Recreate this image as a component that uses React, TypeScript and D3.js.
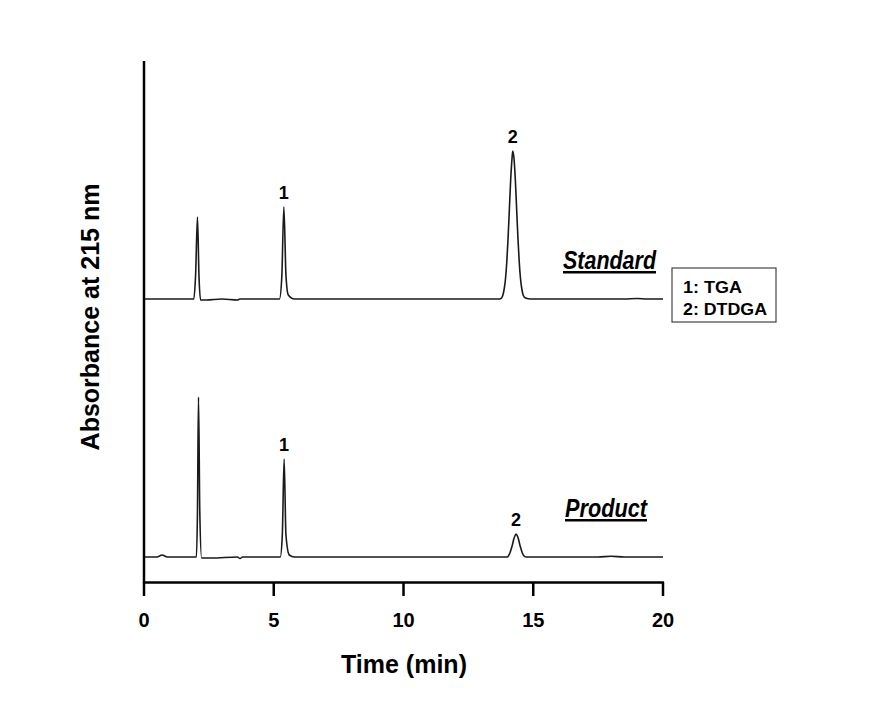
import React from "react";
import * as d3 from "d3";

// Time (min) / absorbance (mAU, relative to own baseline) points
const standardTrace: [number, number][] = [
  [0, 0], [1.92, 0], [1.99, 25], [2.06, 82], [2.12, 22], [2.18, -1], [2.4, -1], [3.0, 0],
  [3.6, -1], [3.7, 0], [5.22, 0], [5.31, 22], [5.39, 92], [5.47, 24], [5.56, 4], [5.8, 0],
  [13.7, 0], [13.78, 1], [13.83, 4], [13.88, 10], [13.93, 20], [13.98, 37], [14.03, 61], [14.08, 90],
  [14.13, 119], [14.18, 140], [14.21, 148], [14.26, 140], [14.31, 119], [14.36, 90], [14.41, 61],
  [14.46, 37], [14.51, 20], [14.56, 10], [14.61, 4], [14.7, 1], [14.9, 0],
  [18.5, 0], [19, 0.5], [19.4, 0], [20, 0],
];
const productTrace: [number, number][] = [
  [0, 0], [0.5, 0], [0.7, 2], [0.9, 0], [2.02, 0], [2.06, 45], [2.1, 160], [2.15, 45], [2.22, -1],
  [2.6, -1], [3.6, 0], [3.7, -1.5], [3.8, 0], [5.25, 0], [5.33, 22], [5.4, 98], [5.47, 22],
  [5.6, 2], [5.8, 0], [14.0, 0], [14.05, 1.5], [14.1, 4], [14.15, 8], [14.2, 12.5], [14.25, 18],
  [14.3, 21.5], [14.34, 23], [14.38, 21.5], [14.43, 18], [14.48, 12.5], [14.53, 8], [14.58, 4],
  [14.63, 1.5], [14.72, 0], [17.5, 0], [18, 0.7], [18.5, 0], [20, 0],
];
const traceNames = ["Standard", "Product"];
const traceOffsets = [258, 0];
// peak labels: [trace index, time, label, peak height]
const peakLabels: [number, number, string, number][] = [
  [0, 5.39, "1", 92], [0, 14.21, "2", 148], [1, 5.4, "1", 98], [1, 14.34, "2", 23],
];
const legendItems = ["1: TGA", "2: DTDGA"];
const xTicks = [0, 5, 10, 15, 20];

export default function App() {
  const font = "'Liberation Sans', Arial, sans-serif";
  const x = d3.scaleLinear().domain([0, 20]).range([144, 663]);
  const y = d3.scaleLinear().domain([-25, 495]).range([582, 62]);
  const traces = [standardTrace, productTrace];
  const line = (off: number) =>
    d3.line<[number, number]>().x((d) => x(d[0])).y((d) => y(d[1] + off)).curve(d3.curveMonotoneX);
  return (
    <svg width={885} height={707} style={{ position: "absolute", left: 0, top: 0, background: "#fff" }}>
      {traces.map((t, i) => (
        <path key={i} d={line(traceOffsets[i])(t) || ""} fill="none" stroke="#1a1a1a" strokeWidth={1.6} strokeLinejoin="round" />
      ))}
      {/* axes */}
      <line x1={x(0)} x2={x(0)} y1={61} y2={583} stroke="#000" strokeWidth={2.5} />
      <line x1={x(0) - 1} x2={x(20) + 1} y1={582.5} y2={582.5} stroke="#000" strokeWidth={2.5} />
      {xTicks.map((t) => (
        <g key={t}>
          <line x1={x(t)} x2={x(t)} y1={582} y2={596} stroke="#000" strokeWidth={2.5} />
          <text x={x(t)} y={627} textAnchor="middle" fontFamily={font} fontWeight="bold" fontSize={20}>{t}</text>
        </g>
      ))}
      <text x={404} y={673} textAnchor="middle" fontFamily={font} fontWeight="bold" fontSize={25}>Time (min)</text>
      <text transform="translate(99,317) rotate(-90)" textAnchor="middle" fontFamily={font} fontWeight="bold" fontSize={25}>Absorbance at 215 nm</text>
      {peakLabels.map(([ti, t, lab, h], i) => (
        <text key={i} x={x(t)} y={y(h + traceOffsets[ti]) - 8} textAnchor="middle" fontFamily={font} fontWeight="bold" fontSize={18}>{lab}</text>
      ))}
      {/* trace names */}
      <text x={563} y={269} fontFamily={font} fontWeight="bold" fontStyle="italic" fontSize={25} textDecoration="underline" textLength={93} lengthAdjust="spacingAndGlyphs">{traceNames[0]}</text>
      <text x={565} y={517} fontFamily={font} fontWeight="bold" fontStyle="italic" fontSize={25} textDecoration="underline" textLength={82} lengthAdjust="spacingAndGlyphs">{traceNames[1]}</text>
      {/* legend */}
      <rect x={672} y={268} width={104} height={54} fill="#fff" stroke="#444" strokeWidth={1.2} />
      {legendItems.map((s, i) => (
        <text key={s} x={683} y={293 + i * 22} fontFamily={font} fontWeight="bold" fontSize={16} textLength={i === 0 ? 59 : 84} lengthAdjust="spacingAndGlyphs">{s}</text>
      ))}
    </svg>
  );
}
